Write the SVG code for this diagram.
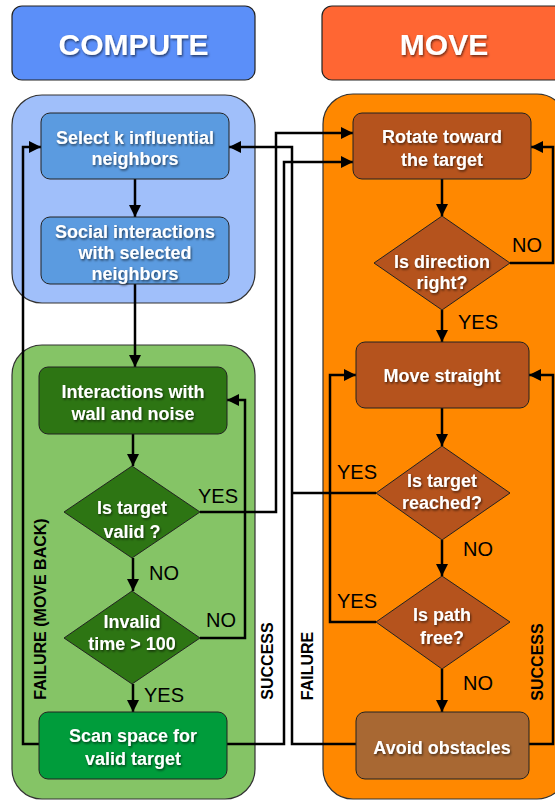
<svg xmlns="http://www.w3.org/2000/svg" width="555" height="801" viewBox="0 0 555 801">
<defs>
<filter id="sh" x="-10%" y="-20%" width="120%" height="150%">
<feDropShadow dx="1" dy="1.5" stdDeviation="0.8" flood-color="#000" flood-opacity="0.6"/>
</filter>
<marker id="ah" markerUnits="userSpaceOnUse" markerWidth="12" markerHeight="12" refX="12" refY="6" orient="auto">
<path d="M0,0 L12,6 L0,12 z" fill="#000"/>
</marker>
</defs>
<style>
.hdr{stroke:#222;stroke-width:1.2}
.pnl{stroke:#333;stroke-width:1.2}
.box{stroke:#222;stroke-width:1}
.t{font-family:"Liberation Sans",Arial,sans-serif;font-weight:bold;fill:#fff;text-anchor:middle;filter:url(#sh)}
.ht{font-size:30px}
.nt{font-size:18px}
.lb{font-family:"Liberation Sans",Arial,sans-serif;font-size:20px;fill:#000;text-anchor:middle}
.vl{font-family:"Liberation Sans",Arial,sans-serif;font-size:16px;font-weight:bold;fill:#000;text-anchor:middle}
.c{fill:none;stroke:#000;stroke-width:2.5}
.a{marker-end:url(#ah)}
</style>

<g id="compute-header">
<rect class="hdr" x="12" y="6" width="243" height="74" rx="10" fill="#5b8ff9"/>
<text class="t ht" x="133.5" y="55">COMPUTE</text>
</g>
<g id="move-header">
<rect class="hdr" x="322" y="6" width="244" height="74" rx="10" fill="#ff6633"/>
<text class="t ht" x="444" y="55">MOVE</text>
</g>

<g id="panel-social">
<rect class="pnl" x="12" y="95" width="243" height="208" rx="30" fill="#a0bffa"/>
</g>
<g id="panel-individual">
<rect class="pnl" x="12" y="345" width="243" height="454" rx="30" fill="#85c466"/>
</g>
<g id="panel-move">
<rect class="pnl" x="323" y="94" width="244" height="705" rx="30" fill="#ff8800"/>
</g>

<g id="connectors">
<path class="c a" d="M135,179 V217"/>
<path class="c a" d="M135,284 V367"/>
<path class="c a" d="M133,434 V466"/>
<path class="c a" d="M133,558 V591"/>
<path class="c a" d="M133,684 V712"/>
<path class="c a" d="M200,638 H245 V400 H227"/>
<path class="c a" d="M200,512 H276 V133 H353"/>
<path class="c a" d="M39,744 H23 V147 H41"/>
<path class="c a" d="M227,744 H284 V162 H353"/>
<path class="c a" d="M356,744 H292 V147 H229"/>
<path class="c" d="M376,493 H292"/>
<path class="c a" d="M442,179 V216"/>
<path class="c a" d="M510,263 H553 V147 H531"/>
<path class="c a" d="M442,310 V342"/>
<path class="c a" d="M442,408 V446"/>
<path class="c a" d="M442,540 V576"/>
<path class="c a" d="M376,622 H330 V375 H356"/>
<path class="c a" d="M442,669 V712"/>
<path class="c a" d="M529,744 H553 V375 H529"/>
</g>

<g id="select-neighbors">
<rect class="box" x="41" y="113" width="188" height="66" rx="9" fill="#5b9be0"/>
<text class="t nt" x="135" y="143.5">Select k influential</text>
<text class="t nt" x="135" y="165">neighbors</text>
</g>
<g id="social-interactions">
<rect class="box" x="41" y="217" width="188" height="67" rx="9" fill="#5b9be0"/>
<text class="t nt" x="135" y="237.5">Social interactions</text>
<text class="t nt" x="135" y="259">with selected</text>
<text class="t nt" x="135" y="280">neighbors</text>
</g>
<g id="wall-noise">
<rect class="box" x="39" y="367" width="188" height="67" rx="9" fill="#2d7513"/>
<text class="t nt" x="133" y="397.5">Interactions with</text>
<text class="t nt" x="133" y="419.5">wall and noise</text>
</g>
<g id="target-valid">
<polygon class="box" points="132,466 200,512 132,558 64,512" fill="#2d7513"/>
<text class="t nt" x="132" y="513.5">Is target</text>
<text class="t nt" x="132" y="537.5">valid ?</text>
</g>
<g id="invalid-time">
<polygon class="box" points="132,591 200,638 132,684 64,638" fill="#2d7513"/>
<text class="t nt" x="132" y="627.5">Invalid</text>
<text class="t nt" x="132" y="649.5">time &gt; 100</text>
</g>
<g id="scan-space">
<rect class="box" x="39" y="712" width="188" height="67" rx="9" fill="#009c3b"/>
<text class="t nt" x="133" y="741.5">Scan space for</text>
<text class="t nt" x="133" y="764.5">valid target</text>
</g>

<g id="rotate">
<rect class="box" x="353" y="113" width="178" height="66" rx="9" fill="#b5531d"/>
<text class="t nt" x="442" y="142.5">Rotate toward</text>
<text class="t nt" x="442" y="165.5">the target</text>
</g>
<g id="direction-right">
<polygon class="box" points="442,216 510,263 442,310 374,263" fill="#b5531d"/>
<text class="t nt" x="442" y="267.5">Is direction</text>
<text class="t nt" x="442" y="288.5">right?</text>
</g>
<g id="move-straight">
<rect class="box" x="356" y="342" width="173" height="66" rx="9" fill="#b5531d"/>
<text class="t nt" x="442" y="381.5">Move straight</text>
</g>
<g id="target-reached">
<polygon class="box" points="442,446 510,493 442,540 376,493" fill="#b5531d"/>
<text class="t nt" x="442" y="486.5">Is target</text>
<text class="t nt" x="442" y="508.5">reached?</text>
</g>
<g id="path-free">
<polygon class="box" points="442,576 510,622 442,669 376,622" fill="#b5531d"/>
<text class="t nt" x="442" y="620.5">Is path</text>
<text class="t nt" x="442" y="643.5">free?</text>
</g>
<g id="avoid-obstacles">
<rect class="box" x="356" y="712" width="173" height="67" rx="9" fill="#a86833"/>
<text class="t nt" x="442" y="753.5">Avoid obstacles</text>
</g>

<g id="labels">
<text class="lb" x="218" y="503">YES</text>
<text class="lb" x="164" y="580">NO</text>
<text class="lb" x="221" y="627">NO</text>
<text class="lb" x="164" y="702">YES</text>
<text class="lb" x="527" y="252">NO</text>
<text class="lb" x="478" y="329">YES</text>
<text class="lb" x="357" y="479">YES</text>
<text class="lb" x="478" y="556">NO</text>
<text class="lb" x="357" y="608">YES</text>
<text class="lb" x="478" y="690">NO</text>
<text class="vl" transform="translate(45.5,609) rotate(-90)">FAILURE (MOVE BACK)</text>
<text class="vl" transform="translate(272.5,661) rotate(-90)">SUCCESS</text>
<text class="vl" transform="translate(312.5,666) rotate(-90)">FAILURE</text>
<text class="vl" transform="translate(542.5,662) rotate(-90)">SUCCESS</text>
</g>
</svg>
